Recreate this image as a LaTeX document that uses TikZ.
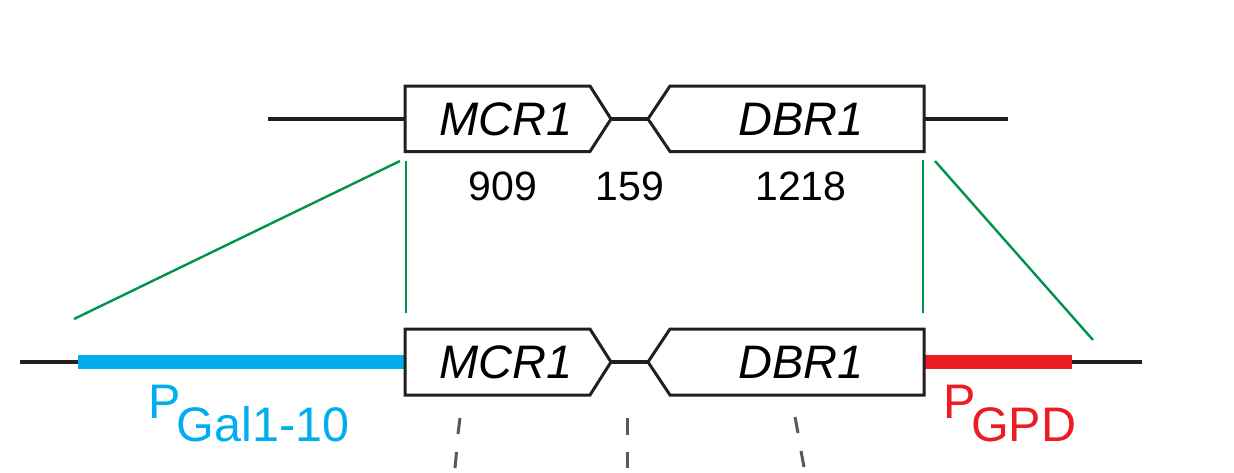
\documentclass[tikz,border=0pt]{standalone}
\usepackage{fontspec}
\setmainfont{Liberation Sans}
\definecolor{pblue}{HTML}{00AEEF}
\definecolor{pred}{HTML}{ED1C24}
\definecolor{pgreen}{HTML}{00934A}
\definecolor{pline}{HTML}{231F20}
\definecolor{pdash}{HTML}{595959}
\tikzset{
  geneline/.style={draw=pline,line width=3.2pt},
  genebox/.style={draw=pline,line width=3pt,line join=miter,fill=white},
  guide/.style={draw=pgreen,line width=2.4pt},
  promoter/.style={line width=14.5pt},
  dashpart/.style={draw=pdash,line width=3pt},
  genelabel/.style={font=\fontsize{47}{50}\selectfont\itshape,inner sep=0pt,anchor=base},
  numlabel/.style={font=\fontsize{41}{44}\selectfont,inner sep=0pt,anchor=base},
  promlabel/.style={font=\fontsize{48.5}{52}\selectfont,inner sep=0pt,anchor=base west},
}
\begin{document}
\begin{tikzpicture}[x=1pt,y=-1pt]
\useasboundingbox (0,0) rectangle (1234,472);
% top row
\coordinate (tl) at (268,119);
\coordinate (tr) at (1008,119);
\coordinate (ta) at (405,119);
\coordinate (tb) at (611,119);
\coordinate (tc) at (648,119);
\coordinate (td) at (924,119);
\draw[geneline] (tl) -- (ta);
\draw[geneline] (tb) -- (tc);
\draw[geneline] (td) -- (tr);
\draw[genebox] (405,86) -- (590,86) -- (tb) -- (590,151.5) -- (405,151.5) -- cycle;
\draw[genebox] (924,86) -- (670,86) -- (tc) -- (670,151.5) -- (924,151.5) -- cycle;
\node[genelabel] (mcrtop) at (506,135) {MCR1};
\node[genelabel] (dbrtop) at (801,135) {DBR1};
\node[numlabel] (n909) at (503,200) {909};
\node[numlabel] (n159) at (630,200) {159};
\node[numlabel] (n1218) at (801,200) {1218};
% bottom row
\coordinate (bl) at (20,362);
\coordinate (bp) at (78,362);
\coordinate (ba) at (405,362);
\coordinate (bb) at (611,362);
\coordinate (bc) at (648,362);
\coordinate (bd) at (924,362);
\coordinate (bq) at (1072,362);
\coordinate (br) at (1142,362);
\draw[geneline] (bl) -- (bp);
\draw[geneline] (bb) -- (bc);
\draw[geneline] (bq) -- (br);
\draw[pblue,promoter] (bp) -- (ba);
\draw[pred,promoter] (bd) -- (bq);
\draw[genebox] (405,329) -- (590,329) -- (bb) -- (590,395) -- (405,395) -- cycle;
\draw[genebox] (924,329) -- (670,329) -- (bc) -- (670,395) -- (924,395) -- cycle;
\node[genelabel] (mcrbot) at (506,378) {MCR1};
\node[genelabel] (dbrbot) at (801,378) {DBR1};
% promoter labels
\node[promlabel,text=pblue] (pgal) at (148,418) {P};
\node[promlabel,text=pblue] (pgalsub) at (176.5,441) {Gal1-10};
\node[promlabel,text=pred] (pgpd) at (943.5,418) {P};
\node[promlabel,text=pred] (pgpdsub) at (971,441) {GPD};
% green guides
\coordinate (g1a) at (400,161);
\coordinate (g1b) at (74,319);
\coordinate (g2a) at (406,161);
\coordinate (g2b) at (406,313);
\coordinate (g3a) at (923,160);
\coordinate (g3b) at (923,313);
\coordinate (g4a) at (935,161);
\coordinate (g4b) at (1093,340);
\draw[guide] (g1a) -- (g1b);
\draw[guide] (g2a) -- (g2b);
\draw[guide] (g3a) -- (g3b);
\draw[guide] (g4a) -- (g4b);
% dashes
\coordinate (d1a) at (460,418);
\coordinate (d1b) at (458,434);
\coordinate (d1c) at (456.5,452);
\coordinate (d1d) at (455,468);
\coordinate (d2a) at (627.5,418);
\coordinate (d2b) at (627.5,435);
\coordinate (d2c) at (627.5,452);
\coordinate (d2d) at (627.5,468);
\coordinate (d3a) at (795,417);
\coordinate (d3b) at (798,433);
\coordinate (d3c) at (801,451);
\coordinate (d3d) at (804,467);
\draw[dashpart] (d1a) -- (d1b);
\draw[dashpart] (d1c) -- (d1d);
\draw[dashpart] (d2a) -- (d2b);
\draw[dashpart] (d2c) -- (d2d);
\draw[dashpart] (d3a) -- (d3b);
\draw[dashpart] (d3c) -- (d3d);
\end{tikzpicture}
\end{document}
